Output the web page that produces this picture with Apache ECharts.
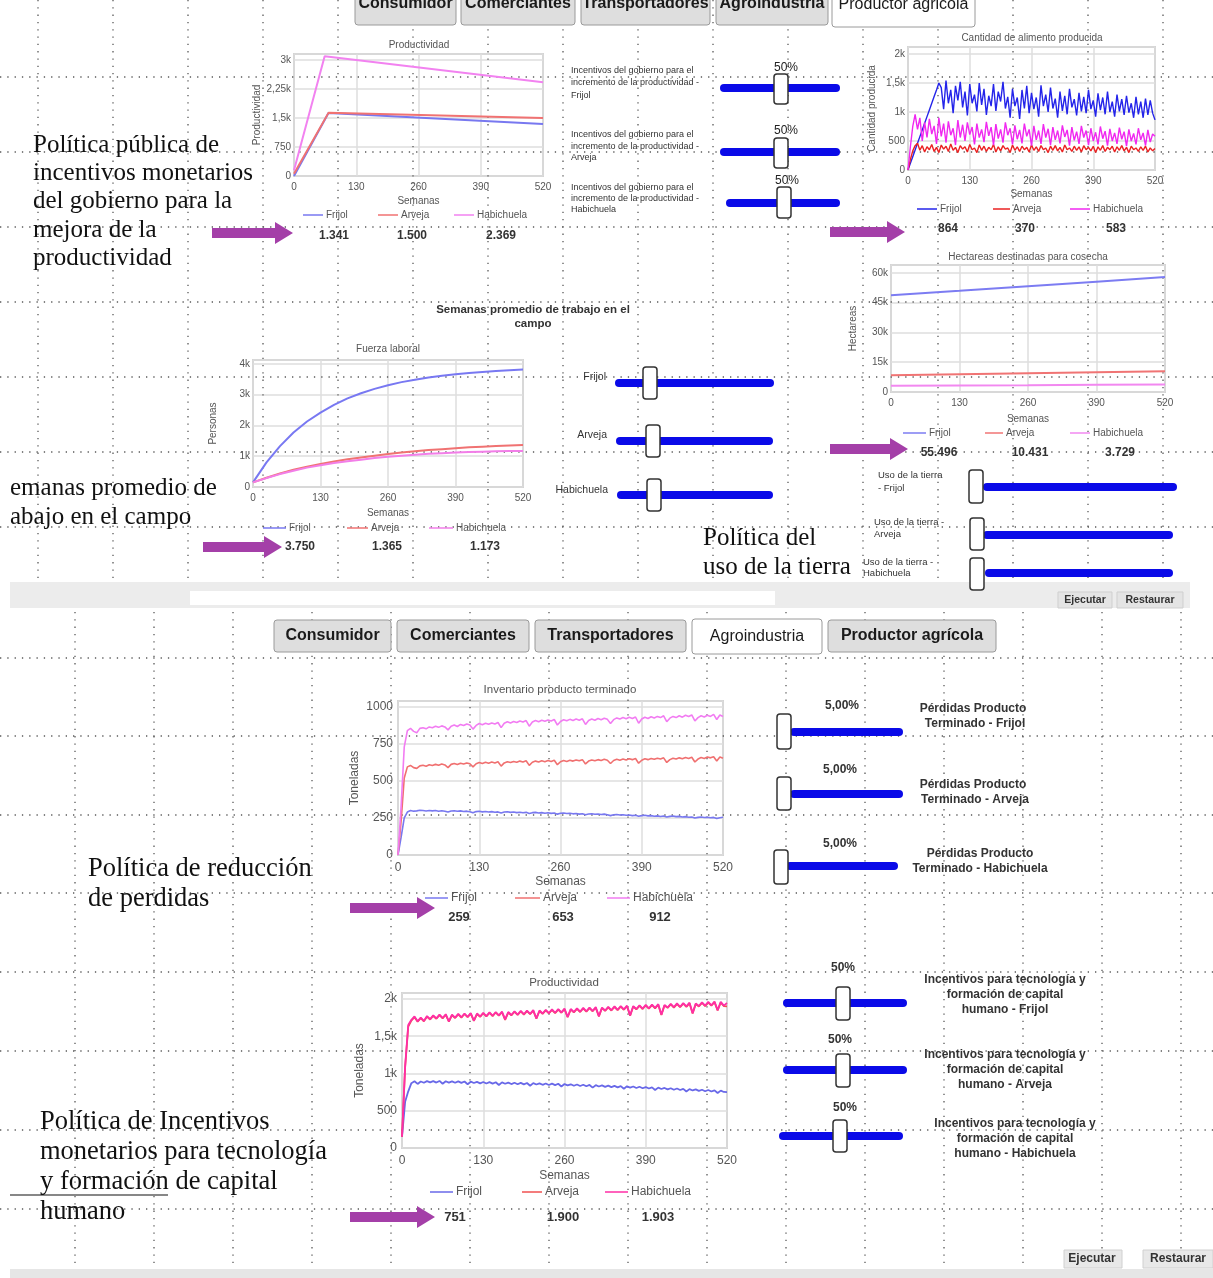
<!DOCTYPE html>
<html><head><meta charset="utf-8">
<script src="https://cdn.jsdelivr.net/npm/echarts@6.0.0/dist/echarts.min.js"></script>
<style>html,body{margin:0;padding:0;background:#fff}#main{width:1213px;height:1278px}</style>
</head><body><div id="main"></div>
<script>
// ---------- DATA ----------
const seriesNames = ['Frijol', 'Arveja', 'Habichuela'];
const weekTicks = ['0', '130', '260', '390', '520'];

// Chart 1: Productividad (top)
const c1WeeksFA = [0, 72, 520];
const c1Frijol = [0, 1625, 1341];
const c1Arveja = [60, 1630, 1500];
const c1WeeksH = [0, 64, 520];
const c1Habichuela = [150, 3090, 2420];
const c1YLabels = ['0', '750', '1,5k', '2,25k', '3k'];
const c1Final = ['1.341', '1.500', '2.369'];

// Chart 2: Cantidad de alimento producida (sampled every 5 weeks)
const c2Step = 5;
const c2Frijol = [0,115,230,345,460,575,690,805,920,1035,1150,1265,1380,1500,
 1420,1050,1540,1150,1380,980,1450,1200,1520,1080,
 1350,940,1480,1150,1300,1010,1500,1120,1400,950,
 1280,1100,1480,1020,1350,1180,1520,1060,1260,900,
 1400,1100,1250,880,1380,1060,1450,980,1330,1050,
 1250,920,1460,1100,1300,1000,1420,1060,1230,900,
 1350,1020,1280,960,1400,1080,1220,940,1330,1010,
 1260,980,1380,1050,1200,920,1320,1030,1250,960,
 1350,1000,1180,920,1300,1010,1220,950,1280,990,
 1150,900,1260,960,1180,900,1230,950,1200,980,
 864];
const c2Arveja = [0,180,330,420,460,
 340,420,310,400,350,440,320,390,300,430,
 360,410,320,450,340,390,300,420,360,400,
 310,440,350,380,300,430,340,410,320,390,
 350,440,310,400,330,420,360,380,300,430,
 340,400,320,410,350,390,310,430,340,400,
 320,420,350,380,300,410,340,420,330,390,
 310,430,350,380,320,410,340,400,310,420,
 350,390,330,410,300,400,340,420,320,390,
 350,410,310,400,340,420,330,390,300,410,
 350,380,320,400,340,410,310,380,330,370];
const c2Habichuela = [0,400,750,960,
 700,900,500,820,560,880,620,760,450,900,
 580,800,470,840,600,720,430,860,560,780,
 500,820,610,740,440,800,560,700,480,830,
 590,740,430,790,540,700,470,820,600,720,
 440,770,530,690,460,800,580,700,420,760,
 520,680,450,790,560,710,430,740,520,680,
 460,770,570,690,420,740,510,660,450,760,
 560,680,430,720,500,650,440,750,540,670,
 420,710,500,640,450,730,530,660,410,700,
 500,630,440,720,520,640,420,690,480,620,
 583];
const c2YLabels = ['0', '500', '1k', '1,5k', '2k'];
const c2Final = ['864', '370', '583'];

// Chart 3: Hectareas destinadas para cosecha
const c3Weeks = [0, 130, 260, 390, 520];
const c3Frijol = [48800, 51000, 53300, 55600, 57900];
const c3Arveja = [8500, 8950, 9450, 9950, 10431];
const c3Habichuela = [3200, 3330, 3460, 3600, 3729];
const c3YLabels = ['0', '15k', '30k', '45k', '60k'];
const c3Final = ['55.496', '10.431', '3.729'];

// Chart 4: Fuerza laboral (every 26 weeks)
const c4Weeks = [0,26,52,78,104,130,156,182,208,234,260,286,312,338,364,390,416,442,468,494,520];
const c4Frijol = [150,800,1330,1770,2130,2420,2670,2880,3050,3190,3310,3410,3490,3560,3620,3670,3710,3740,3770,3800,3820];
const c4Arveja = [150,300,440,560,660,750,830,900,960,1020,1070,1120,1160,1200,1230,1260,1290,1310,1330,1350,1365];
const c4Habichuela = [150,290,420,530,630,710,780,840,890,940,980,1020,1050,1080,1100,1120,1135,1150,1160,1168,1173];
const c4YLabels = ['0', '1k', '2k', '3k', '4k'];
const c4Final = ['3.750', '1.365', '1.173'];

// Chart 5: Inventario producto terminado (every 5 weeks)
const c5Step = 5;
const c5Frijol = [0,120,250,290,300,296,298,302,300,297,
 301,298,300,296,299,295,290,297,299,295,
 298,294,296,292,285,293,295,291,294,290,
 293,289,291,284,290,292,288,290,286,289,
 285,288,280,286,288,284,286,282,285,281,
 284,276,282,284,280,282,278,280,276,279,
 272,277,279,275,277,273,276,272,266,272,
 274,270,272,268,270,266,268,262,266,268,
 264,266,262,264,260,263,256,261,263,259,
 261,257,259,255,257,250,254,257,253,255,
 251,254,246,252,255];
const c5Arveja = [0,230,520,595,605,590,585,602,606,600,
 610,605,612,606,614,608,590,612,618,611,
 620,614,622,616,595,616,624,618,626,620,
 628,622,630,600,622,630,624,632,626,634,
 628,636,605,626,634,628,636,630,638,632,
 640,610,630,638,632,640,634,642,636,644,
 615,634,642,636,644,638,646,640,618,638,
 646,640,648,642,650,644,652,620,640,650,
 644,652,646,654,648,656,625,644,654,648,
 656,650,658,652,660,628,648,658,652,662,
 656,664,635,662,653];
const c5Habichuela = [0,330,730,840,855,835,825,855,860,852,
 865,860,870,862,872,865,845,870,878,868,
 882,875,885,878,850,875,888,880,890,883,
 892,885,895,860,890,900,892,902,895,905,
 898,908,870,898,908,900,910,903,912,905,
 915,878,902,913,906,916,908,918,910,920,
 882,908,918,910,922,914,924,916,888,914,
 926,918,928,920,930,922,932,890,918,930,
 922,934,925,936,928,940,900,924,936,928,
 940,931,944,935,946,905,928,940,932,944,
 936,950,915,945,935];
const c5YLabels = ['0', '250', '500', '750', '1000'];
const c5Final = ['259', '653', '912'];

// Chart 6: Productividad (bottom, every 5 weeks)
const c6Step = 5;
const c6Frijol = [150,620,760,870,895,860,892,876,898,880,
 898,878,900,862,896,878,895,876,894,874,
 892,856,890,872,888,868,886,866,884,864,
 882,845,880,862,878,858,876,856,874,854,
 872,836,870,852,868,848,866,846,864,844,
 862,826,858,840,855,835,852,832,849,829,
 846,810,843,825,840,820,837,817,834,814,
 831,795,828,810,825,805,822,802,818,798,
 814,778,810,792,806,786,802,782,798,778,
 794,758,790,772,786,766,782,762,778,758,
 774,738,770,752,751];
const c6Arveja = [150,1080,1630,1710,1755,1695,1742,1700,1762,1725,
 1772,1735,1782,1740,1788,1695,1782,1745,1792,1750,
 1798,1755,1802,1705,1798,1760,1808,1765,1812,1770,
 1818,1775,1822,1720,1818,1780,1828,1785,1832,1790,
 1838,1795,1842,1735,1838,1800,1848,1805,1852,1810,
 1858,1815,1862,1755,1858,1820,1868,1825,1872,1830,
 1878,1835,1882,1765,1878,1840,1888,1845,1892,1850,
 1898,1855,1902,1775,1898,1860,1908,1865,1912,1870,
 1918,1875,1922,1785,1912,1880,1928,1885,1932,1890,
 1938,1895,1942,1805,1932,1900,1948,1905,1952,1910,
 1958,1845,1952,1905,1900];
const c6Habichuela = [150,1100,1650,1720,1765,1700,1750,1705,1770,1730,
 1780,1740,1790,1745,1795,1700,1790,1750,1800,1755,
 1805,1760,1810,1710,1805,1765,1815,1770,1820,1775,
 1825,1780,1830,1725,1825,1785,1835,1790,1840,1795,
 1845,1800,1850,1740,1845,1805,1855,1810,1860,1815,
 1865,1820,1870,1760,1865,1825,1875,1830,1880,1835,
 1885,1840,1890,1770,1885,1845,1895,1850,1900,1855,
 1905,1860,1910,1780,1905,1865,1915,1870,1920,1875,
 1925,1880,1930,1790,1920,1885,1935,1890,1940,1895,
 1945,1900,1950,1810,1940,1905,1955,1910,1960,1915,
 1965,1850,1960,1910,1945];
const c6YLabels = ['0', '500', '1k', '1,5k', '2k'];
const c6Final = ['751', '1.900', '1.903'];

// ---------- HELPERS ----------
const FONT = '"Liberation Sans", Arial, sans-serif';
const pairs = (w, v) => v.map((y, i) => [w[i], y]);
const stepPairs = (s, v) => v.map((y, i) => [i * s, y]);

const grids = [
  {left: 294, top: 54, width: 249, height: 122},
  {left: 908, top: 47, width: 247, height: 123},
  {left: 891, top: 265, width: 274, height: 127},
  {left: 253, top: 360, width: 270, height: 127},
  {left: 398, top: 701, width: 325, height: 154},
  {left: 402, top: 993, width: 325, height: 155}
].map(g => Object.assign(g, {show: true, borderColor: '#b4b4b4', borderWidth: 1.5, backgroundColor: 'rgba(0,0,0,0)', containLabel: false}));

const axisCfg = [
  {max: 3150, int: 750, labels: c1YLabels, name: 'Productividad', yGap: 30, xGap: 20, fs: 10},
  {max: 2120, int: 500, labels: c2YLabels, name: 'Cantidad producida', yGap: 31, xGap: 19, fs: 10},
  {max: 64000, int: 15000, labels: c3YLabels, name: 'Hectareas', yGap: 33, xGap: 22, fs: 10},
  {max: 4130, int: 1000, labels: c4YLabels, name: 'Personas', yGap: 35, xGap: 21, fs: 10},
  {max: 1040, int: 250, labels: c5YLabels, name: 'Toneladas', yGap: 37, xGap: 21, fs: 12},
  {max: 2080, int: 500, labels: c6YLabels, name: 'Toneladas', yGap: 36, xGap: 22, fs: 12}
];

const xAxes = axisCfg.map((c, i) => ({
  gridIndex: i, type: 'value', min: 0, max: 520, interval: 130,
  axisLine: {show: false}, axisTick: {show: false},
  axisLabel: {fontSize: c.fs, color: '#555', fontFamily: FONT, margin: c.fs === 10 ? 6 : 7,
    formatter: v => (v % 130 === 0 && weekTicks[v / 130] !== undefined) ? weekTicks[v / 130] : ''},
  splitLine: {show: true, lineStyle: {color: '#dedede', width: 1.5}},
  name: 'Semanas', nameLocation: 'middle', nameGap: c.xGap,
  nameTextStyle: {fontSize: c.fs, color: '#555', fontFamily: FONT}
}));
const yAxes = axisCfg.map((c, i) => ({
  gridIndex: i, type: 'value', min: 0, max: c.max, interval: c.int,
  axisLine: {show: false}, axisTick: {show: false},
  axisLabel: {fontSize: c.fs, color: '#555', fontFamily: FONT, margin: c.fs === 10 ? 3 : 5,
    formatter: v => (v % c.int === 0 && c.labels[v / c.int] !== undefined) ? c.labels[v / c.int] : ''},
  splitLine: {show: true, lineStyle: {color: '#dedede', width: 1.5}},
  name: c.name, nameLocation: 'middle', nameGap: c.yGap, nameRotate: 90,
  nameTextStyle: {fontSize: c.fs, color: '#555', fontFamily: FONT}
}));

const palettes = [
  ['#7878f0', '#f07272', '#f282f0'],
  ['#2424ea', '#ea2222', '#f028f0'],
  ['#7c7cf2', '#f07474', '#f288f0'],
  ['#7878f2', '#f07272', '#f27ee8'],
  ['#7878f0', '#f07070', '#f27cf2'],
  ['#6868e8', '#f05050', '#ff2ea6']
];
const series = [];
function addSeries(gi, datasets, width) {
  datasets.forEach((d, k) => series.push({
    type: 'line', name: seriesNames[k], xAxisIndex: gi, yAxisIndex: gi, data: d,
    showSymbol: false, symbol: 'none', silent: true, animation: false,
    lineStyle: {color: palettes[gi][k], width: width}, itemStyle: {color: palettes[gi][k]}
  }));
}
addSeries(0, [pairs(c1WeeksFA, c1Frijol), pairs(c1WeeksFA, c1Arveja), pairs(c1WeeksH, c1Habichuela)], 2);
addSeries(1, [stepPairs(c2Step, c2Frijol), stepPairs(c2Step, c2Arveja), stepPairs(c2Step, c2Habichuela)], 1.4);
addSeries(2, [pairs(c3Weeks, c3Frijol), pairs(c3Weeks, c3Arveja), pairs(c3Weeks, c3Habichuela)], 2);
addSeries(3, [pairs(c4Weeks, c4Frijol), pairs(c4Weeks, c4Arveja), pairs(c4Weeks, c4Habichuela)], 2);
addSeries(4, [stepPairs(c5Step, c5Frijol), stepPairs(c5Step, c5Arveja), stepPairs(c5Step, c5Habichuela)], 1.6);
addSeries(5, [stepPairs(c6Step, c6Frijol), stepPairs(c6Step, c6Arveja), stepPairs(c6Step, c6Habichuela)], 1.8);

// ---------- GRAPHIC DECORATIONS ----------
const G = [];
function dLine(x1, y1, x2, y2) {
  G.push({type: 'line', silent: true, z: 1, shape: {x1, y1, x2, y2},
    style: {stroke: '#5a5a5a', lineWidth: 1.3, lineDash: [1.3, 6]}});
}
function rect(x, y, w, h, fill, stroke, r, z, lw) {
  G.push({type: 'rect', silent: true, z: z || 2, shape: {x, y, width: w, height: h, r: r || 0},
    style: {fill: fill, stroke: stroke || null, lineWidth: lw || 1}});
}
function txt(x, y, text, font, fill, align, z) {
  G.push({type: 'text', silent: true, z: z || 20, x, y,
    style: {text, font, fill: fill || '#222', textAlign: align || 'left', align: align || 'left',
      textVerticalAlign: 'middle', verticalAlign: 'middle'}});
}
function arrow(tail, tip, cy) {
  G.push({type: 'polygon', silent: true, z: 15, shape: {points: [
    [tail, cy - 5], [tip - 18, cy - 5], [tip - 18, cy - 11], [tip, cy], [tip - 18, cy + 11], [tip - 18, cy + 5], [tail, cy + 5]
  ]}, style: {fill: '#a43fa8'}});
}
function slider(x1, x2, y, tx, tTop, tBot) {
  rect(x1, y - 4, x2 - x1, 8, '#0a0ae8', null, 4, 5);
  rect(tx, tTop, 14, tBot - tTop, '#ffffff', '#333333', 3, 6, 1.5);
}
function legend(items, font, y) {
  items.forEach(it => {
    G.push({type: 'line', silent: true, z: 8, shape: {x1: it[0], y1: y, x2: it[1], y2: y},
      style: {stroke: it[2], lineWidth: 1.5}});
    txt(it[1] + 3, y, it[3], font, '#555', 'left', 9);
  });
}
function finals(vals, xs, y, font) {
  vals.forEach((v, i) => txt(xs[i], y, v, font, '#333', 'center', 9));
}
function tab(x1, x2, y1, y2, label, active, font, ty) {
  rect(x1, y1, x2 - x1, y2 - y1, active ? '#ffffff' : '#dedede', '#9a9a9a', 3, 3, 1);
  txt((x1 + x2) / 2, ty !== undefined ? ty : (y1 + y2) / 2, label, font, '#1a1a1a', 'center', 4);
}

// background dotted grid (top screenshot)
[38,113,188,263,338,413,488,563,638,713,788,863,938,1013,1088,1163].forEach(x => dLine(x, 0, x, 582));
[77,152,227,302,377,452,527].forEach(y => dLine(0, y, 1213, y));
// background dotted grid (bottom screenshot)
[75,154,233,312,391,470,549,628,707,786,865,944,1023,1102,1181].forEach(x => dLine(x, 612, x, 1268));
[658,736,815,893,972,1051,1130,1209].forEach(y => dLine(0, y, 1213, y));

// top tab bar (cut at the top edge)
const tabBold = 'bold 16px ' + FONT;
const tabReg = '16px ' + FONT;
tab(355, 456, -10, 25, 'Consumidor', false, tabBold, 4);
tab(461, 575, -10, 25, 'Comerciantes', false, tabBold, 4);
tab(581, 710, -10, 25, 'Transportadores', false, tabBold, 4);
tab(716, 828, -10, 25, 'Agroindustria', false, tabBold, 4);
tab(832, 975, -10, 27, 'Productor agricola', true, tabReg, 5);

// bottom tab bar
tab(274, 391, 620, 652, 'Consumidor', false, tabBold);
tab(397, 529, 620, 652, 'Comerciantes', false, tabBold);
tab(535, 686, 620, 652, 'Transportadores', false, tabBold);
tab(692, 822, 619, 654, 'Agroindustria', true, tabReg);
tab(828, 996, 620, 652, 'Productor agrícola', false, tabBold);

// gray bands & buttons
rect(10, 582, 1180, 26, '#ececec', null, 0, 2);
rect(190, 591, 585, 14, '#ffffff', null, 0, 2);
rect(1058, 592, 54, 16, '#e4e4e4', '#cfcfcf', 0, 3);
rect(1117, 592, 66, 16, '#e4e4e4', '#cfcfcf', 0, 3);
txt(1085, 600, 'Ejecutar', 'bold 10.5px ' + FONT, '#333', 'center');
txt(1150, 600, 'Restaurar', 'bold 10.5px ' + FONT, '#333', 'center');
rect(10, 1269, 1203, 9, '#e6e6e6', null, 0, 2);
rect(1064, 1250, 58, 18, '#e8e8e8', '#d0d0d0', 0, 3);
rect(1143, 1250, 70, 18, '#e8e8e8', '#d0d0d0', 0, 3);
txt(1092, 1259, 'Ejecutar', 'bold 12px ' + FONT, '#333', 'center');
txt(1178, 1259, 'Restaurar', 'bold 12px ' + FONT, '#333', 'center');

// chart titles
const tFont = '10px ' + FONT, tFontB = '11.5px ' + FONT;
txt(419, 45, 'Productividad', tFont, '#555', 'center');
txt(1032, 38, 'Cantidad de alimento producida', tFont, '#555', 'center');
txt(1028, 257, 'Hectareas destinadas para cosecha', tFont, '#555', 'center');
txt(388, 349, 'Fuerza laboral', tFont, '#555', 'center');
txt(560, 690, 'Inventario producto terminado', tFontB, '#555', 'center');
txt(564, 983, 'Productividad', tFontB, '#555', 'center');
txt(533, 310, 'Semanas promedio de trabajo en el', 'bold 11.5px ' + FONT, '#333', 'center');
txt(533, 324, 'campo', 'bold 11.5px ' + FONT, '#333', 'center');

// legends & final values
const lf = '10px ' + FONT, lfB = '12px ' + FONT;
const vf = 'bold 12px ' + FONT, vfB = 'bold 13px ' + FONT;
legend([[303, 323, palettes[0][0], 'Frijol'], [378, 398, palettes[0][1], 'Arveja'], [454, 474, palettes[0][2], 'Habichuela']], lf, 215);
finals(c1Final, [334, 412, 501], 236, vf);
legend([[917, 937, palettes[1][0], 'Frijol'], [993, 1010, palettes[1][1], 'Arveja'], [1070, 1090, palettes[1][2], 'Habichuela']], lf, 209);
finals(c2Final, [948, 1025, 1116], 229, vf);
legend([[903, 926, palettes[2][0], 'Frijol'], [985, 1003, palettes[2][1], 'Arveja'], [1070, 1090, palettes[2][2], 'Habichuela']], lf, 433);
finals(c3Final, [939, 1030, 1120], 453, vf);
legend([[263, 286, palettes[3][0], 'Frijol'], [347, 368, palettes[3][1], 'Arveja'], [429, 453, palettes[3][2], 'Habichuela']], lf, 528);
finals(c4Final, [300, 387, 485], 547, vf);
legend([[425, 448, palettes[4][0], 'Frijol'], [515, 540, palettes[4][1], 'Arveja'], [607, 630, palettes[4][2], 'Habichuela']], lfB, 898);
finals(c5Final, [459, 563, 660], 917, vfB);
legend([[430, 453, palettes[5][0], 'Frijol'], [522, 542, palettes[5][1], 'Arveja'], [605, 628, palettes[5][2], 'Habichuela']], lfB, 1192);
finals(c6Final, [455, 563, 658], 1217, vfB);

// sliders: productivity incentives (top)
const sf = '9px ' + FONT;
txt(571, 71, 'Incentivos del gobierno para el', sf, '#333');
txt(571, 83, 'incremento de la productividad -', sf, '#333');
txt(571, 96, 'Frijol', sf, '#333');
slider(720, 840, 88, 774, 74, 104);
txt(786, 68, '50%', '12px ' + FONT, '#222', 'center');
txt(571, 135, 'Incentivos del gobierno para el', sf, '#333');
txt(571, 147, 'incremento de la productividad -', sf, '#333');
txt(571, 158, 'Arveja', sf, '#333');
slider(720, 840, 152, 774, 138, 168);
txt(786, 131, '50%', '12px ' + FONT, '#222', 'center');
txt(571, 188, 'Incentivos del gobierno para el', sf, '#333');
txt(571, 199, 'incremento de la productividad -', sf, '#333');
txt(571, 210, 'Habichuela', sf, '#333');
slider(726, 840, 203, 777, 187, 218);
txt(787, 181, '50%', '12px ' + FONT, '#222', 'center');

// sliders: weeks in the field
const wf = '10.5px ' + FONT;
txt(606, 377, 'Frijol', wf, '#333', 'right');
slider(615, 774, 383, 643, 367, 399);
txt(607, 435, 'Arveja', wf, '#333', 'right');
slider(616, 773, 441, 646, 425, 457);
txt(608, 490, 'Habichuela', wf, '#333', 'right');
slider(617, 773, 495, 647, 479, 511);

// sliders: land use
const uf = '9.5px ' + FONT;
txt(878, 475, 'Uso de la tierra', uf, '#333');
txt(878, 488, '- Frijol', uf, '#333');
slider(983, 1177, 487, 969, 470, 503);
txt(874, 522, 'Uso de la tierra -', uf, '#333');
txt(874, 534, 'Arveja', uf, '#333');
slider(983, 1173, 535, 970, 518, 550);
txt(863, 562, 'Uso de la tierra -', uf, '#333');
txt(863, 573, 'Habichuela', uf, '#333');
slider(985, 1173, 573, 970, 558, 590);

// sliders: losses
const pf = 'bold 12px ' + FONT;
txt(842, 706, '5,00%', pf, '#333', 'center');
slider(790, 903, 732, 777, 714, 749);
txt(973, 709, 'Pérdidas Producto', pf, '#333', 'center');
txt(975, 724, 'Terminado - Frijol', pf, '#333', 'center');
txt(840, 770, '5,00%', pf, '#333', 'center');
slider(790, 903, 794, 777, 777, 810);
txt(973, 785, 'Pérdidas Producto', pf, '#333', 'center');
txt(975, 800, 'Terminado - Arveja', pf, '#333', 'center');
txt(840, 844, '5,00%', pf, '#333', 'center');
slider(786, 898, 866, 774, 850, 884);
txt(980, 854, 'Pérdidas Producto', pf, '#333', 'center');
txt(980, 869, 'Terminado - Habichuela', pf, '#333', 'center');

// sliders: technology incentives
txt(843, 968, '50%', pf, '#333', 'center');
slider(783, 907, 1003, 836, 987, 1020);
txt(1005, 980, 'Incentivos para tecnología y', pf, '#333', 'center');
txt(1005, 995, 'formación de capital', pf, '#333', 'center');
txt(1005, 1010, 'humano - Frijol', pf, '#333', 'center');
txt(840, 1040, '50%', pf, '#333', 'center');
slider(783, 907, 1070, 836, 1054, 1087);
txt(1005, 1055, 'Incentivos para tecnología y', pf, '#333', 'center');
txt(1005, 1070, 'formación de capital', pf, '#333', 'center');
txt(1005, 1085, 'humano - Arveja', pf, '#333', 'center');
txt(845, 1108, '50%', pf, '#333', 'center');
slider(779, 903, 1136, 833, 1120, 1152);
txt(1015, 1124, 'Incentivos para tecnología y', pf, '#333', 'center');
txt(1015, 1139, 'formación de capital', pf, '#333', 'center');
txt(1015, 1154, 'humano - Habichuela', pf, '#333', 'center');

// annotation texts (serif)
const af = '25px "Liberation Serif", "Times New Roman", serif';
const afB = '26.5px "Liberation Serif", "Times New Roman", serif';
[['Política pública de', 145], ['incentivos monetarios', 173], ['del gobierno para la', 201], ['mejora de la', 230], ['productividad', 258]]
  .forEach(a => txt(33, a[1], a[0], af, '#111'));
txt(10, 488, 'emanas promedio de', af, '#111');
txt(10, 517, 'abajo en el campo', af, '#111');
txt(703, 538, 'Política del', af, '#111');
txt(703, 567, 'uso de la tierra', af, '#111');
txt(88, 869, 'Política de reducción', afB, '#111');
txt(88, 899, 'de perdidas', afB, '#111');
[['Política de Incentivos', 1122], ['monetarios para tecnología', 1152], ['y formación de capital', 1182], ['humano', 1212]]
  .forEach(a => txt(40, a[1], a[0], afB, '#111'));
G.push({type: 'line', silent: true, z: 16, shape: {x1: 10, y1: 1195, x2: 168, y2: 1195}, style: {stroke: '#111', lineWidth: 1.2}});

// arrows
arrow(212, 293, 233);
arrow(830, 905, 232);
arrow(830, 908, 449);
arrow(203, 282, 547);
arrow(350, 435, 908);
arrow(350, 435, 1217);

// ---------- CHART ----------
const chart = echarts.init(document.getElementById('main'), null, {renderer: 'canvas'});
chart.setOption({
  animation: false,
  backgroundColor: '#ffffff',
  textStyle: {fontFamily: FONT},
  grid: grids,
  xAxis: xAxes,
  yAxis: yAxes,
  series: series,
  graphic: {elements: G}
});
</script>
</body></html>
